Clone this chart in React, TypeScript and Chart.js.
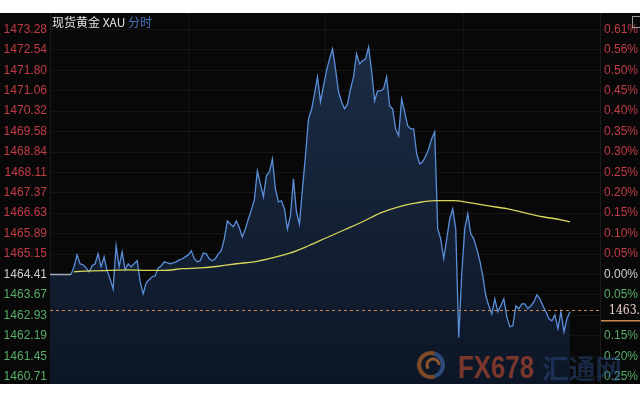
import React, { useEffect, useRef } from "react";
import { Chart, registerables } from "chart.js";

Chart.register(...registerables);

const PREV_CLOSE = 1464.41;
const Y_MIN = 1460.45;
const Y_MAX = 1473.87;
const TOTAL_SLOTS = 184;

const LEFT_TICKS = [
  1473.28, 1472.54, 1471.8, 1471.06, 1470.32, 1469.58, 1468.84, 1468.11, 1467.37,
  1466.63, 1465.89, 1465.15, 1464.41, 1463.67, 1462.93, 1462.19, 1461.45, 1460.71,
];

const PRICES = [
  1464.41, 1464.41, 1464.41, 1464.41, 1464.41, 1464.41, 1464.41, 1464.41,
  1464.69, 1465.12, 1464.8, 1464.76, 1464.65, 1464.51, 1464.72, 1464.8, 1465.16, 1464.69,
  1465.05, 1464.54, 1464.25, 1463.89, 1465.45, 1464.69, 1465.23, 1464.58, 1464.8, 1464.69,
  1464.8, 1464.91, 1464.15, 1463.71, 1464.11, 1464.22, 1464.33, 1464.36, 1464.65, 1464.72,
  1464.87, 1464.83, 1464.8, 1464.83, 1464.87, 1464.94, 1464.98, 1465.05, 1465.12, 1465.27,
  1464.98, 1464.87, 1464.91, 1465.19, 1465.16, 1464.98, 1464.91, 1464.98, 1465.16, 1465.27,
  1465.7, 1466.35, 1466.24, 1466.14, 1466.35, 1466.1, 1465.77, 1466.06, 1466.42, 1466.75,
  1467.11, 1468.16, 1467.69, 1467.22, 1467.98, 1468.12, 1468.59, 1467.51, 1467.04, 1467.08,
  1466.79, 1466.06, 1466.53, 1467.87, 1466.68, 1466.24, 1467.51, 1468.7, 1470.04, 1470.37,
  1470.94, 1471.56, 1470.66, 1471.23, 1471.78, 1472.21, 1472.57, 1471.85, 1471.02, 1470.66,
  1470.4, 1470.58, 1471.13, 1471.56, 1472.39, 1472.03, 1472.14, 1472.21, 1472.64, 1471.78,
  1470.69, 1471.05, 1471.05, 1471.13, 1471.56, 1470.51, 1470.4, 1469.68, 1469.43, 1470.76,
  1470.29, 1469.79, 1469.68, 1469.68, 1468.78, 1468.41, 1468.49, 1468.7, 1468.96, 1469.32,
  1469.57, 1466.06, 1465.7, 1464.98, 1465.7, 1466.42, 1466.79, 1466.06, 1462.12, 1464.44,
  1466.06, 1466.61, 1465.88, 1465.7, 1465.34, 1464.91, 1464.36, 1463.64, 1463.28, 1462.99,
  1463.53, 1463.06, 1463.28, 1463.53, 1462.88, 1462.52, 1462.56, 1463.28, 1463.17, 1463.35,
  1463.35, 1463.17, 1463.28, 1463.42, 1463.68, 1463.53, 1463.28, 1463.06, 1462.81, 1462.74,
  1462.95, 1462.45, 1463.06, 1462.34, 1462.81, 1463.06,
];

const OPEN_SLOT = 8;
const MA_STEP = 6;
const MA_VALUES = [
  1464.51, 1464.54, 1464.56, 1464.58, 1464.56, 1464.56, 1464.62, 1464.65, 1464.71, 1464.8,
  1464.87, 1465.01, 1465.19, 1465.45, 1465.74, 1466.03, 1466.32, 1466.64, 1466.86, 1467.0,
  1467.08, 1467.08, 1467.0, 1466.89, 1466.79, 1466.64, 1466.5, 1466.39,
];
const MA_LAST = 1466.32;

const LAST_PRICE = 1463.14;
const LAST_PRICE_LABEL = "1463.";
const TITLE_MAIN = "现货黄金 XAU";
const TITLE_SUB = "分时";
const WM_LATIN = "FX678";
const WM_CJK = "汇通网";

const RED = "#c23c46";
const GREEN = "#58ad68";
const NEUTRAL = "#cfcfcf";

function tickColor(v: number) {
  if (v > PREV_CLOSE + 0.001) return RED;
  if (v < PREV_CLOSE - 0.001) return GREEN;
  return NEUTRAL;
}

const decorPlugin = {
  id: "decor",
  beforeDraw(chart: any) {
    const { ctx } = chart;
    ctx.save();
    ctx.fillStyle = "#ffffff";
    ctx.fillRect(0, 0, chart.width, chart.height);
    ctx.fillStyle = "#080808";
    ctx.fillRect(0, 13, chart.width, 371);
    ctx.restore();
  },
  beforeDatasetsDraw(chart: any) {
    const { ctx, chartArea: a } = chart;
    ctx.save();
    ctx.strokeStyle = "rgba(255,255,255,0.05)";
    ctx.lineWidth = 1;
    for (let k = 1; k < 4; k++) {
      const x = Math.round(a.left + ((a.right - a.left) * k) / 4) + 0.5;
      ctx.beginPath();
      ctx.moveTo(x, a.top);
      ctx.lineTo(x, a.bottom);
      ctx.stroke();
    }
    ctx.restore();
  },
  afterDatasetsDraw(chart: any) {
    const { ctx, chartArea: a, scales } = chart;
    const y = Math.round(scales.y.getPixelForValue(LAST_PRICE)) + 0.5;
    ctx.save();
    ctx.strokeStyle = "#c88a50";
    ctx.lineWidth = 1;
    ctx.setLineDash([3, 3]);
    ctx.beginPath();
    ctx.moveTo(a.left, y);
    ctx.lineTo(a.right, y);
    ctx.stroke();
    ctx.restore();
  },
  afterDraw(chart: any) {
    const { ctx, chartArea: a, scales } = chart;
    ctx.save();
    ctx.textBaseline = "middle";
    ctx.font = '12px "Noto Sans CJK SC"';
    ctx.fillStyle = "#e2e2e2";
    ctx.fillText(TITLE_MAIN, 52, 22);
    const w = ctx.measureText(TITLE_MAIN + " ").width;
    ctx.fillStyle = "#4a74c0";
    ctx.fillText(TITLE_SUB, 52 + w, 22);

    ctx.strokeStyle = "#9a9a9a";
    ctx.lineWidth = 1;
    ctx.strokeRect(632.5, 16.5, 8, 11);

    const y = scales.y.getPixelForValue(LAST_PRICE);
    ctx.fillStyle = "#080808";
    ctx.fillRect(a.right + 1, y - 9, 40, 20);
    ctx.font = '12px "DejaVu Serif", serif';
    ctx.fillStyle = "#ead0ca";
    ctx.textBaseline = "middle";
    ctx.fillText(LAST_PRICE_LABEL, 609, y + 1, 31);
    ctx.strokeStyle = "#c88a50";
    ctx.lineWidth = 1.5;
    ctx.beginPath();
    ctx.moveTo(a.right + 1, y + 11);
    ctx.lineTo(chart.width, y + 11);
    ctx.stroke();

    ctx.globalAlpha = 0.7;
    const cx = 431, cy = 365;
    ctx.lineWidth = 4;
    ctx.strokeStyle = "#b0602a";
    ctx.beginPath();
    ctx.arc(cx, cy, 12, Math.PI * 0.4, Math.PI * 1.6);
    ctx.stroke();
    ctx.strokeStyle = "#3a5fa0";
    ctx.beginPath();
    ctx.arc(cx, cy, 12, Math.PI * 1.6, Math.PI * 2.4);
    ctx.stroke();
    ctx.lineWidth = 3;
    ctx.strokeStyle = "#c07030";
    ctx.beginPath();
    ctx.arc(cx + 2, cy, 6, Math.PI * 0.8, Math.PI * 2.0);
    ctx.stroke();
    ctx.textBaseline = "alphabetic";
    ctx.font = 'bold 31px "Liberation Sans", Arial';
    const grad = ctx.createLinearGradient(458, 0, 533, 0);
    grad.addColorStop(0, "#9a6436");
    grad.addColorStop(0.7, "#9a5a30");
    grad.addColorStop(1, "#a8442e");
    ctx.fillStyle = grad;
    ctx.fillText(WM_LATIN, 458, 378, 76);
    ctx.globalAlpha = 0.45;
    ctx.font = 'bold 27px "Noto Sans CJK SC"';
    ctx.fillStyle = "#2c4f8a";
    ctx.fillText(WM_CJK, 542, 379, 80);
    ctx.restore();
  },
};

export default function App() {
  const ref = useRef<HTMLCanvasElement | null>(null);

  useEffect(() => {
    document.body.style.margin = "0";
    const canvas = ref.current;
    if (!canvas) return;

    const labels = Array.from({ length: TOTAL_SLOTS }, (_, i) => String(i));
    const prices: (number | null)[] = labels.map((_, i) => (i < PRICES.length ? PRICES[i] : null));
    const ma: (number | null)[] = labels.map(() => null);
    MA_VALUES.forEach((v, k) => {
      ma[OPEN_SLOT + k * MA_STEP] = v;
    });
    ma[PRICES.length - 1] = MA_LAST;

    const tickSetter = (scale: any) => {
      scale.ticks = LEFT_TICKS.map((v) => ({ value: v }));
    };

    const chart = new Chart(canvas, {
      type: "line",
      data: {
        labels,
        datasets: [
          {
            data: ma,
            borderColor: "#d8d65c",
            borderWidth: 1.3,
            pointRadius: 0,
            fill: false,
            spanGaps: true,
            cubicInterpolationMode: "monotone",
            yAxisID: "y",
          } as any,
          {
            data: prices,
            borderColor: "#5b8ed8",
            borderWidth: 1.3,
            pointRadius: 0,
            tension: 0,
            fill: "start",
            yAxisID: "y",
            segment: {
              borderColor: (c: any) => (c.p1DataIndex <= OPEN_SLOT - 1 ? "#a3adba" : undefined),
            },
            backgroundColor: (c: any) => {
              const ch = c.chart;
              const area = ch.chartArea;
              if (!area) return "rgba(20,34,55,1)";
              const g = ch.ctx.createLinearGradient(0, area.top, 0, area.bottom);
              g.addColorStop(0, "rgba(28,46,72,1)");
              g.addColorStop(1, "rgba(13,22,38,1)");
              return g;
            },
          } as any,
        ],
      },
      options: {
        animation: false,
        responsive: false,
        maintainAspectRatio: false,
        layout: { padding: { top: 13, bottom: 16, left: 0, right: 0 } },
        plugins: { legend: { display: false }, tooltip: { enabled: false } },
        scales: {
          x: { display: false, offset: false },
          y: {
            position: "left",
            min: Y_MIN,
            max: Y_MAX,
            afterBuildTicks: tickSetter,
            afterFit: (s: any) => {
              s.width = 50;
            },
            grid: { color: "rgba(255,255,255,0.055)", drawTicks: false },
            border: { display: true, color: "rgba(255,255,255,0.08)" },
            ticks: {
              autoSkip: false,
              padding: 3,
              font: { size: 12, family: '"Liberation Sans", Arial' },
              color: (c: any) => tickColor(c.tick.value),
              callback: (v: any) => Number(v).toFixed(2),
            },
          },
          y2: {
            position: "right",
            min: Y_MIN,
            max: Y_MAX,
            afterBuildTicks: tickSetter,
            afterFit: (s: any) => {
              s.width = 40;
            },
            grid: { display: false, drawTicks: false },
            border: { display: true, color: "rgba(255,255,255,0.08)" },
            ticks: {
              autoSkip: false,
              padding: 4,
              font: { size: 12, family: '"Liberation Sans", Arial' },
              color: (c: any) => tickColor(c.tick.value),
              callback: (v: any) =>
                Math.abs(((Number(v) - PREV_CLOSE) / PREV_CLOSE) * 100).toFixed(2) + "%",
            },
          },
        },
      } as any,
      plugins: [decorPlugin],
    });

    return () => chart.destroy();
  }, []);

  return (
    <div style={{ width: 640, height: 400, background: "#fff" }}>
      <canvas ref={ref} width={640} height={400} style={{ display: "block" }} />
    </div>
  );
}
